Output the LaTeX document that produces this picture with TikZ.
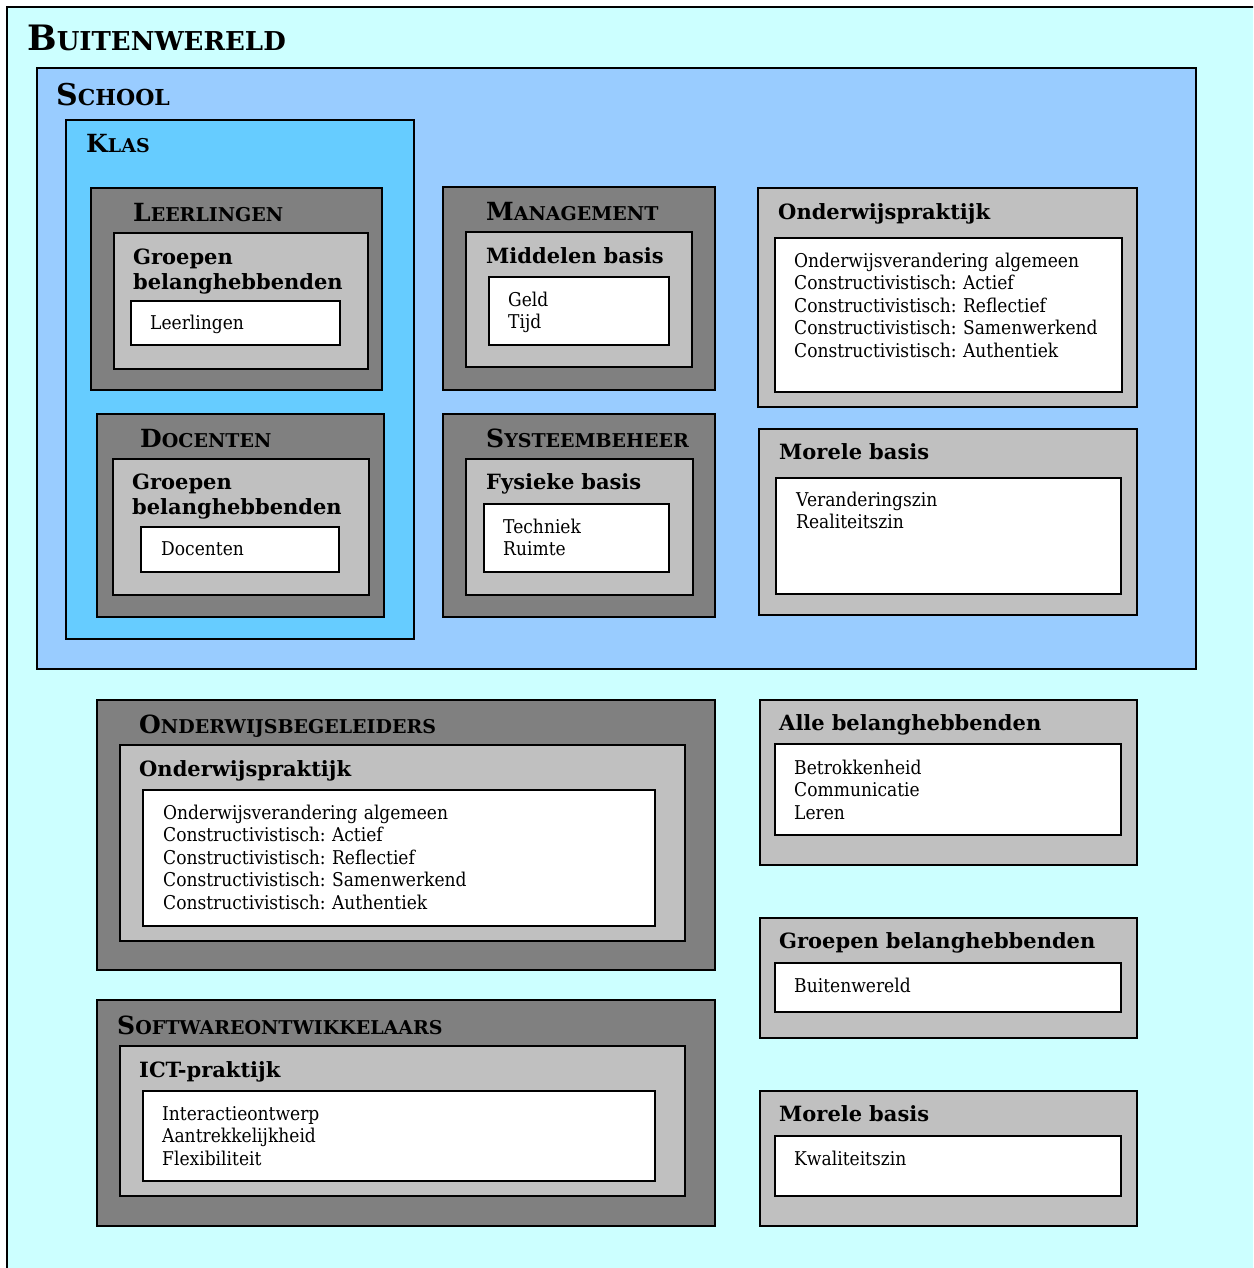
\documentclass[tikz,border=0pt]{standalone}
\usepackage{fontspec}
\setmainfont{DejaVu Serif}[UprightFeatures={FakeStretch=0.9}]
\frenchspacing

\definecolor{wereld}{HTML}{CCFFFF}
\definecolor{schoolblauw}{HTML}{99CCFF}
\definecolor{klasblauw}{HTML}{66CCFF}
\definecolor{donker}{HTML}{808080}
\definecolor{licht}{HTML}{C0C0C0}

\newcommand\kapitaal[4]{{\bfseries\fontsize{#1}{#1}\selectfont #3\fontsize{#2}{#2}\selectfont #4}}

\tikzset{
  vak/.style={draw, line width=1.6pt, anchor=north west, inner sep=0pt, outer sep=0pt},
  kop/.style={anchor=base west, inner sep=0pt, text width=340pt, align=left, font=\bfseries\fontsize{21}{25}\selectfont},
  lijst/.style={anchor=base west, inner sep=0pt, text width=480pt, align=left, font=\fontsize{19}{22.6}\selectfont}
}

\begin{document}
\begin{tikzpicture}[x=1pt,y=-1pt]

      \useasboundingbox (0,0) rectangle (1253,1268);
      \clip (0,0) rectangle (1253,1268);

      \begin{scope}[every node/.style={vak}]
        \node[fill=wereld, minimum width=1300, minimum height=1300] (buiten) at (7,7) {};
        \node[fill=schoolblauw, minimum width=1159, minimum height=601] (school) at (37,68) {};
        \node[fill=klasblauw, minimum width=348, minimum height=519] (klas) at (66,120) {};

        \node[fill=donker, minimum width=291, minimum height=202] (leer) at (91,188) {};
        \node[fill=licht, minimum width=254, minimum height=136] (leerg) at (114,233) {};
        \node[fill=white, minimum width=209, minimum height=44] (leerw) at (131,301) {};

        \node[fill=donker, minimum width=287, minimum height=203] (doc) at (97,414) {};
        \node[fill=licht, minimum width=256, minimum height=136] (docg) at (113,459) {};
        \node[fill=white, minimum width=198, minimum height=45] (docw) at (141,527) {};

        \node[fill=donker, minimum width=272, minimum height=203] (man) at (443,187) {};
        \node[fill=licht, minimum width=226, minimum height=135] (mang) at (466,232) {};
        \node[fill=white, minimum width=180, minimum height=68] (manw) at (489,277) {};

        \node[fill=donker, minimum width=272, minimum height=203] (sys) at (443,414) {};
        \node[fill=licht, minimum width=227, minimum height=136] (sysg) at (466,459) {};
        \node[fill=white, minimum width=185, minimum height=68] (sysw) at (484,504) {};

        \node[fill=licht, minimum width=379, minimum height=219] (opr) at (758,188) {};
        \node[fill=white, minimum width=347, minimum height=154] (oprw) at (775,238) {};

        \node[fill=licht, minimum width=378, minimum height=186] (mor) at (759,429) {};
        \node[fill=white, minimum width=345, minimum height=116] (morw) at (776,478) {};

        \node[fill=donker, minimum width=618, minimum height=270] (obg) at (97,700) {};
        \node[fill=licht, minimum width=565, minimum height=196] (obgg) at (120,745) {};
        \node[fill=white, minimum width=512, minimum height=136] (obgw) at (143,790) {};

        \node[fill=licht, minimum width=377, minimum height=165] (alle) at (760,700) {};
        \node[fill=white, minimum width=346, minimum height=91] (allew) at (775,744) {};

        \node[fill=licht, minimum width=377, minimum height=120] (grp) at (760,918) {};
        \node[fill=white, minimum width=346, minimum height=49] (grpw) at (775,963) {};

        \node[fill=donker, minimum width=618, minimum height=226] (sw) at (97,1000) {};
        \node[fill=licht, minimum width=565, minimum height=150] (swg) at (120,1046) {};
        \node[fill=white, minimum width=512, minimum height=90] (sww) at (143,1091) {};

        \node[fill=licht, minimum width=377, minimum height=135] (mor2) at (760,1091) {};
        \node[fill=white, minimum width=346, minimum height=60] (mor2w) at (775,1136) {};
      \end{scope}

      \begin{scope}[every node/.style={anchor=base west, inner sep=0pt}]
        \node (tbuiten) at (27,51) {\kapitaal{35}{26}{B}{UITENWERELD}};
        \node (tschool) at (56,106) {\kapitaal{30}{22}{S}{CHOOL}};
        \node (tklas) at (86,153) {\kapitaal{25}{19}{K}{LAS}};
        \node (tleer) at (133,221) {\kapitaal{25}{19}{L}{EERLINGEN}};
        \node (tdoc) at (140,447) {\kapitaal{25}{19}{D}{OCENTEN}};
        \node (tman) at (486,220) {\kapitaal{25}{19}{M}{ANAGEMENT}};
        \node (tsys) at (486,447) {\kapitaal{25}{19}{S}{YSTEEMBEHEER}};
        \node (tobg) at (139,733) {\kapitaal{25}{19}{O}{NDERWIJSBEGELEIDERS}};
        \node (tsw) at (117,1034) {\kapitaal{25}{19}{S}{OFTWAREONTWIKKELAARS}};
      \end{scope}

      \begin{scope}[every node/.style={kop}]
        \node (kleer) at (133,264) {Groepen\\belanghebbenden};
        \node (kdoc) at (132,489) {Groepen\\belanghebbenden};
        \node (kman) at (486,263) {Middelen basis};
        \node (ksys) at (486,489) {Fysieke basis};
        \node (kopr) at (778,219) {Onderwijspraktijk};
        \node (kmor) at (779,459) {Morele basis};
        \node (kobg) at (139,776) {Onderwijspraktijk};
        \node (kalle) at (779,730) {Alle belanghebbenden};
        \node (kgrp) at (779,948) {Groepen belanghebbenden};
        \node (ksw) at (139,1077) {ICT-praktijk};
        \node (kmor2) at (779,1121) {Morele basis};
      \end{scope}

      \begin{scope}[every node/.style={lijst}]
        \node (lleer) at (150,329) {Leerlingen};
        \node (ldoc) at (161,555) {Docenten};
        \node (lman) at (508,306) {Geld\\Tijd};
        \node (lsys) at (503,533) {Techniek\\Ruimte};
        \node (lopr) at (794,267) {Onderwijsverandering algemeen\\Constructivistisch: Actief\\Constructivistisch: Reflectief\\Constructivistisch: Samenwerkend\\Constructivistisch: Authentiek};
        \node (lmor) at (796,506) {Veranderingszin\\Realiteitszin};
        \node (lobg) at (163,819) {Onderwijsverandering algemeen\\Constructivistisch: Actief\\Constructivistisch: Reflectief\\Constructivistisch: Samenwerkend\\Constructivistisch: Authentiek};
        \node (lalle) at (794,774) {Betrokkenheid\\Communicatie\\Leren};
        \node (lgrp) at (794,992) {Buitenwereld};
        \node (lsw) at (162,1120) {Interactieontwerp\\Aantrekkelijkheid\\Flexibiliteit};
        \node (lmor2) at (794,1165) {Kwaliteitszin};
      \end{scope}

    \end{tikzpicture}
\end{document}
